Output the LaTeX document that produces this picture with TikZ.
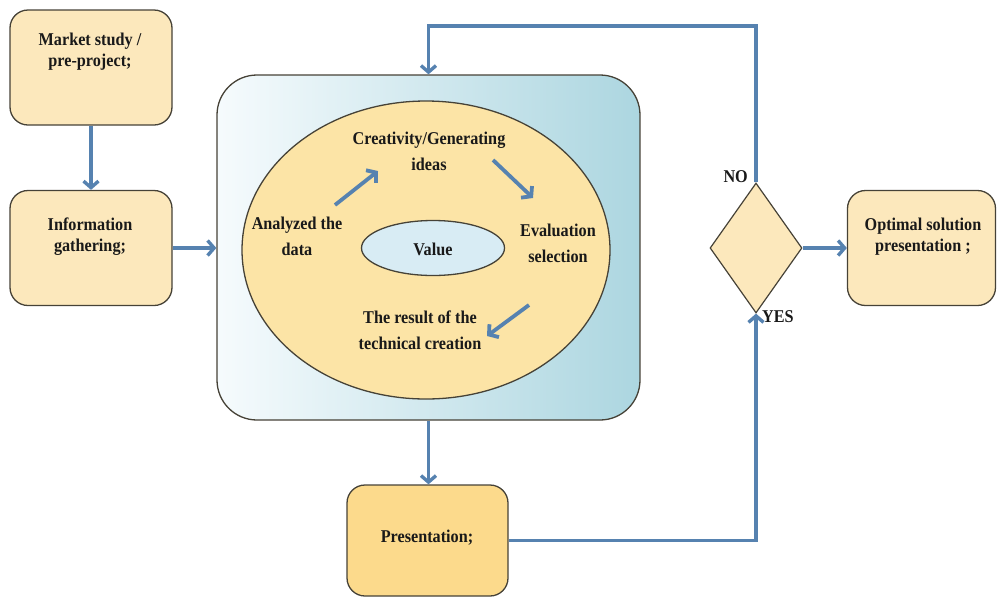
\documentclass[tikz,border=0pt]{standalone}
\usepackage{fontspec}
\setmainfont{Liberation Serif}[FakeStretch=0.9]
\usetikzlibrary{shapes.geometric,arrows.meta,calc}
\definecolor{arrowblue}{RGB}{86,130,176}
\definecolor{boxline}{RGB}{70,66,55}
\definecolor{cream}{RGB}{252,232,188}
\definecolor{presfill}{RGB}{252,218,140}
\definecolor{ellfill}{RGB}{252,228,166}
\definecolor{valfill}{RGB}{216,236,244}
\definecolor{bigright}{RGB}{172,214,224}
\definecolor{bigleft}{RGB}{246,251,253}
\begin{document}
\begin{tikzpicture}[x=1pt,y=-1pt,
  box/.style={draw=boxline, line width=1.3pt, rounded corners=18pt, fill=cream,
    minimum width=162pt, minimum height=115pt, inner sep=0pt},
  bigbox/.style={draw=boxline, line width=1.3pt, rounded corners=40pt,
    left color=bigleft, right color=bigright, minimum width=423pt, minimum height=345pt, inner sep=0pt},
  ell/.style={ellipse, draw=boxline, line width=1.3pt, fill=ellfill,
    minimum width=368pt, minimum height=298pt, inner sep=0pt},
  valell/.style={ellipse, draw=boxline, line width=1.3pt, fill=valfill,
    minimum width=143pt, minimum height=55pt, inner sep=0pt},
  dia/.style={diamond, draw=boxline, line width=1.2pt, fill=cream,
    minimum width=92pt, minimum height=130pt, inner sep=0pt, aspect=0.708},
  lbl/.style={font=\bfseries\fontsize{18}{21}\selectfont, align=center, inner sep=0pt, text=black!90},
  elbl/.style={font=\bfseries\fontsize{18}{26}\selectfont, align=center, inner sep=0pt, text=black!90},
  conn/.style={draw=arrowblue, line width=3.4pt, -{Straight Barb[length=6.5pt,width=15pt]}},
  inarr/.style={draw=arrowblue, line width=3.8pt, -{Straight Barb[length=6.5pt,width=16pt]}}
]
\useasboundingbox (0,0) rectangle (998,598);

% left boxes
\node[box] (b1) at (91,67.5) {};
\node[lbl] (t1) at (90,52) {Market study /\\pre-project;};
\node[box] (b2) at (91,248) {};
\node[lbl] (t2) at (90,237) {Information\\gathering;};

% central block
\node[bigbox] (big) at (428.5,247.5) {};
\node[ell] (ell) at (426,250) {};
\node[valell] (val) at (433,248) {};
\node[elbl] (tval) at (433,249) {Value};
\node[elbl] (tcre) at (429,151) {Creativity/Generating\\ideas};
\node[elbl] (tana) at (297,236) {Analyzed the\\data};
\node[elbl] (teva) at (558,243) {Evaluation\\selection};
\node[elbl] (tres) at (420,330) {The result of the\\technical creation};

\coordinate (a1s) at (335,205); \coordinate (a1e) at (378,171);
\coordinate (a2s) at (493,160); \coordinate (a2e) at (533,198);
\coordinate (a3s) at (529,305); \coordinate (a3e) at (487,336);
\draw[inarr] (a1s) -- (a1e);
\draw[inarr] (a2s) -- (a2e);
\draw[inarr] (a3s) -- (a3e);

% decision
\node[dia] (dia) at (756,248) {};
\node[lbl, anchor=south east] (no) at (748,183) {NO};
\node[lbl, anchor=north west] (yes) at (762,310) {YES};

% right box
\node[box, minimum width=148pt] (opt) at (921.5,248) {};
\node[lbl] (t3) at (923,237) {Optimal solution\\presentation ;};

% presentation box
\node[box, fill=presfill, minimum width=161pt, minimum height=111pt] (pres) at (427.5,540.5) {};
\node[lbl] (t4) at (427,538) {Presentation;};

% connectors
\coordinate (loop) at (428.5,26);
\draw[conn] (b1) -- (b2);
\draw[conn] (b2.east) -- (b2.east -| big.west);
\draw[conn] (dia.north) |- (loop) -- (big.north);
\draw[conn] (big.south) -- (big.south |- pres.north);
\draw[conn] (pres.east) -| (dia.south);
\draw[conn] (dia.east) -- (opt.west);
\end{tikzpicture}
\end{document}
